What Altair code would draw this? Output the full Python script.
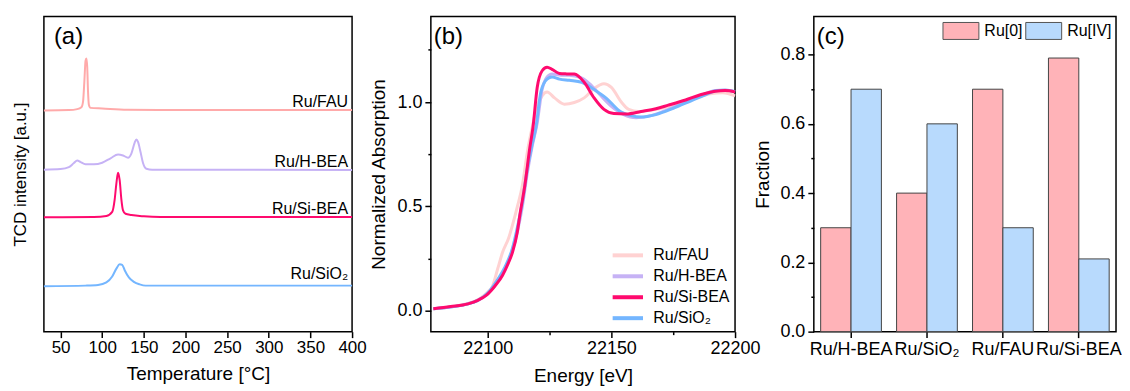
import altair as alt
import pandas as pd

FONT = "Liberation Sans"

samples = ["Ru/FAU", "Ru/H-BEA", "Ru/Si-BEA", "Ru/SiO₂"]
colors_a = ["#FFAAAA", "#C6B2F5", "#FF0A6E", "#74B6FF"]
colors_b = ["#FFD2D2", "#C6B2F5", "#FF0A6E", "#74B6FF"]

# ---------------- (a) H2-TPR profiles (offset, arbitrary units) ----------------
fau_T = [30, 60, 70, 75, 77, 78.5, 80, 81, 82, 83, 84, 86, 100, 130, 200, 400]
fau_I = [7.02, 7.03, 7.06, 7.12, 7.3, 7.9, 8.6, 8.67, 8.4, 7.6, 7.2, 7.1, 7.08, 7.04, 7.03, 7.03]

hbea_T = [30, 50, 60, 66, 70, 74, 80, 90, 100, 110, 119, 125, 131, 135, 139, 141, 143, 146, 149, 153, 160, 400]
hbea_I = [5.14, 5.16, 5.22, 5.35, 5.43, 5.38, 5.31, 5.31, 5.36, 5.5, 5.62, 5.59, 5.52, 5.65, 6.0, 6.1, 6.02, 5.7, 5.35, 5.17, 5.14, 5.13]

sibea_T = [30, 90, 105, 112, 115, 117, 119, 121, 123, 125, 128, 135, 150, 170, 400]
sibea_I = [3.63, 3.64, 3.67, 3.8, 4.2, 4.7, 5.04, 4.8, 4.2, 3.85, 3.74, 3.7, 3.66, 3.64, 3.64]

sio2_T = [30, 80, 95, 105, 112, 117, 121, 124, 127, 132, 138, 145, 152, 400]
sio2_I = [1.44, 1.46, 1.48, 1.56, 1.75, 2.0, 2.14, 2.12, 1.95, 1.72, 1.58, 1.5, 1.46, 1.46]

# ---------------- (b) Ru K-edge XANES ----------------
sibea_E = [22078, 22085, 22092, 22096, 22099.5, 22103, 22106, 22108, 22110, 22112, 22113, 22115, 22117,
           22118.3, 22120, 22122, 22124, 22126, 22129, 22132, 22135, 22139, 22143, 22147, 22151, 22156,
           22162, 22168, 22173, 22180, 22186, 22192, 22196, 22200]
sibea_A = [0.01, 0.02, 0.033, 0.05, 0.075, 0.12, 0.17, 0.22, 0.28, 0.38, 0.46, 0.6, 0.78,
           0.88, 1.07, 1.15, 1.167, 1.157, 1.137, 1.135, 1.134, 1.095, 1.02, 0.965, 0.945, 0.943,
           0.955, 0.968, 0.985, 1.01, 1.035, 1.052, 1.055, 1.048]

sio2_E = [22078, 22092, 22096, 22100, 22104, 22107, 22110, 22112, 22114, 22116, 22118, 22119.5, 22121.5,
          22124, 22126, 22129, 22133, 22138, 22143, 22148, 22153, 22158, 22162, 22168, 22175, 22182,
          22188, 22193, 22196, 22200]
sio2_A = [0.01, 0.033, 0.05, 0.085, 0.15, 0.21, 0.3, 0.4, 0.52, 0.68, 0.8, 0.88, 1.05,
          1.11, 1.12, 1.11, 1.104, 1.095, 1.06, 1.018, 0.96, 0.935, 0.928, 0.94, 0.97, 1.005,
          1.035, 1.055, 1.056, 1.05]

hbea_E = [22078, 22092, 22096, 22100, 22104, 22107, 22110, 22112, 22114, 22116, 22118, 22120, 22122,
          22124, 22126, 22129, 22133, 22137, 22141, 22145, 22150, 22155, 22160, 22166, 22173, 22180,
          22187, 22192, 22196, 22200]
hbea_A = [0.01, 0.033, 0.05, 0.082, 0.14, 0.2, 0.29, 0.38, 0.5, 0.66, 0.79, 0.9, 1.06,
          1.12, 1.135, 1.13, 1.128, 1.12, 1.09, 1.04, 0.98, 0.94, 0.925, 0.935, 0.965, 1.0,
          1.035, 1.055, 1.058, 1.05]

fau_E = [22078, 22092, 22097, 22100, 22102, 22104, 22106, 22108.5, 22110, 22112, 22114, 22116, 22118,
         22120, 22122, 22124, 22127, 22131, 22135, 22139, 22143, 22147, 22150, 22154, 22157, 22161,
         22168, 22175, 22183, 22190, 22195, 22200]
fau_A = [0.01, 0.035, 0.06, 0.09, 0.12, 0.2, 0.28, 0.35, 0.41, 0.5, 0.6, 0.76, 0.88,
         0.98, 1.03, 1.048, 1.02, 0.99, 0.998, 1.02, 1.065, 1.088, 1.07, 1.0, 0.965, 0.955,
         0.965, 0.985, 1.015, 1.04, 1.045, 1.03]

# ---------------- (c) Ru oxidation-state fractions ----------------
cats = ["Ru/H-BEA", "Ru/SiO₂", "Ru/FAU", "Ru/Si-BEA"]
states = ["Ru[0]", "Ru[IV]"]
ru0 = [0.30, 0.40, 0.70, 0.79]
ru4 = [0.70, 0.60, 0.30, 0.21]
bar_colors = ["#FFB3B8", "#B8DAFD"]

# ---------------- tables ----------------
tpr = pd.concat([
    pd.DataFrame({"T": fau_T, "I": fau_I, "sample": samples[0]}),
    pd.DataFrame({"T": hbea_T, "I": hbea_I, "sample": samples[1]}),
    pd.DataFrame({"T": sibea_T, "I": sibea_I, "sample": samples[2]}),
    pd.DataFrame({"T": sio2_T, "I": sio2_I, "sample": samples[3]}),
])
tpr_lbl = pd.DataFrame({
    "sample": samples,
    "T": [fau_T[-1], hbea_T[-1], sibea_T[-1], sio2_T[-1]],
    "I": [fau_I[-1], hbea_I[-1], sibea_I[-1], sio2_I[-1]],
})

xas = pd.concat([
    pd.DataFrame({"E": fau_E, "A": fau_A, "sample": samples[0]}),
    pd.DataFrame({"E": hbea_E, "A": hbea_A, "sample": samples[1]}),
    pd.DataFrame({"E": sibea_E, "A": sibea_A, "sample": samples[2]}),
    pd.DataFrame({"E": sio2_E, "A": sio2_A, "sample": samples[3]}),
])

frac = pd.DataFrame({
    "cat": cats * 2,
    "state": [states[0]] * 4 + [states[1]] * 4,
    "value": ru0 + ru4,
})

H = 316


def tick_size(test):
    return {"condition": {"test": test, "value": 6}, "value": 3}


def panel_label(txt, x):
    return alt.Chart(pd.DataFrame({"p": [txt]})).mark_text(
        fontSize=24, align="left", baseline="alphabetic", font=FONT, color="black"
    ).encode(x=alt.value(x), y=alt.value(28), text="p:N")


# ---------------- panel (a) ----------------
xa = alt.X("T:Q", scale=alt.Scale(domain=[30, 400], nice=False, zero=False),
           axis=alt.Axis(values=list(range(50, 401, 25)), title="Temperature [°C]",
                         labelExpr="datum.value % 50 === 0 ? datum.label : ''",
                         tickSize=tick_size("datum.value % 50 === 0"), labelOverlap=False,
                         labelFlush=False, labelFontSize=17, labelPadding=2, titlePadding=9))
ya = alt.Y("I:Q", scale=alt.Scale(domain=[0, 10], nice=False),
           axis=alt.Axis(title="TCD intensity [a.u.]", labels=False, ticks=False,
                         titleFontSize=17, titlePadding=14))
ca = alt.Color("sample:N", scale=alt.Scale(domain=samples, range=colors_a), legend=None)

lines_a = alt.Chart(tpr).mark_line(strokeWidth=2, interpolate="monotone").encode(
    x=xa, y=ya, color=ca, detail="sample:N")
text_a = alt.Chart(tpr_lbl).transform_filter(alt.datum.sample != samples[3]).mark_text(
    align="right", baseline="alphabetic", dx=-4, dy=-3, fontSize=16, font=FONT, color="black"
).encode(x="T:Q", y="I:Q", text="sample:N")
text_a2 = alt.Chart(tpr_lbl).transform_filter(alt.datum.sample == samples[3]).mark_text(
    align="right", baseline="alphabetic", dx=-4, dy=-7, fontSize=16, font=FONT, color="black"
).encode(x="T:Q", y="I:Q", text="sample:N")

panel_a = alt.layer(lines_a, text_a, text_a2, panel_label("(a)", 10)).properties(width=309, height=H)

# ---------------- panel (b) ----------------
xb = alt.X("E:Q", scale=alt.Scale(domain=[22077, 22200], nice=False, zero=False),
           axis=alt.Axis(values=[22100, 22125, 22150, 22175, 22200], format="d", title="Energy [eV]",
                         labelExpr="datum.value % 50 === 0 ? datum.label : ''",
                         tickSize=tick_size("datum.value % 50 === 0"), labelOverlap=False,
                         labelFlush=False, labelPadding=2, titlePadding=9))
yb = alt.Y("A:Q", scale=alt.Scale(domain=[-0.1, 1.41], nice=False, zero=False),
           axis=alt.Axis(values=[0, 0.25, 0.5, 0.75, 1.0, 1.25], format=".1f",
                         title="Normalized Absorption",
                         labelExpr="(datum.value * 2) % 1 === 0 ? datum.label : ''",
                         tickSize=tick_size("(datum.value * 2) % 1 === 0"), labelOverlap=False,
                         labelFlush=False, labelPadding=3, titlePadding=8))
cb = alt.Color("sample:N", scale=alt.Scale(domain=samples, range=colors_b),
               legend=alt.Legend(orient="bottom-right", title=None, symbolType="M-1.45,0H1.45",
                                 symbolSize=441, symbolStrokeWidth=4, labelFontSize=16, labelFont=FONT,
                                 labelOffset=13, rowPadding=0, offset=5, padding=0))

draw_order = [samples[0], samples[1], samples[3], samples[2]]
layers_b = []
for s in draw_order:
    layers_b.append(
        alt.Chart(xas).transform_filter(alt.datum.sample == s).mark_line(
            strokeWidth=3, interpolate="monotone").encode(x=xb, y=yb, color=cb)
    )
panel_b = alt.layer(*layers_b, panel_label("(b)", 3)).properties(width=305, height=H)

# ---------------- panel (c) ----------------
bars = alt.Chart(frac).mark_bar(stroke="#444444", strokeWidth=1).encode(
    x=alt.X("cat:N", sort=cats, scale=alt.Scale(paddingInner=0.2, paddingOuter=0.09),
            axis=alt.Axis(title=None, labelAngle=0, labelFontSize=18, tickSize=6, labelPadding=3)),
    xOffset=alt.XOffset("state:N", sort=states),
    y=alt.Y("value:Q", scale=alt.Scale(domain=[0, 0.91], nice=False),
            axis=alt.Axis(values=[0.0, 0.1, 0.2, 0.3, 0.4, 0.5, 0.6, 0.7, 0.8], format=".1f",
                          title="Fraction",
                          labelExpr="round(datum.value * 10) % 2 === 0 ? datum.label : ''",
                          tickSize=tick_size("round(datum.value * 10) % 2 === 0"),
                          labelOverlap=False, labelFlush=False, labelPadding=3, titlePadding=7)),
    color=alt.Color("state:N", scale=alt.Scale(domain=states, range=bar_colors),
                    legend=alt.Legend(orient="top-right", direction="horizontal", title=None,
                                      symbolType="M-1.8,-0.85H1.8V0.85H-1.8Z", symbolSize=400,
                                      symbolStrokeColor="#555555", symbolStrokeWidth=1,
                                      symbolOpacity=1, labelFontSize=16, labelFont=FONT,
                                      labelOffset=13, columnPadding=0, offset=4, padding=0)),
)
panel_c = alt.layer(bars, panel_label("(c)", 3)).properties(width=303, height=H)

chart = alt.hconcat(panel_a, panel_b, panel_c, spacing=79, bounds="flush").resolve_scale(
    color="independent"
).properties(
    padding={"left": 3, "top": 7, "right": 0, "bottom": 0}
).configure(font=FONT).configure_view(
    stroke="black", strokeWidth=1.5
).configure_axis(
    labelFont=FONT, titleFont=FONT, labelColor="black", titleColor="black",
    tickColor="black", tickWidth=1.5, domain=False, grid=False,
    titleFontWeight="normal", labelFontSize=18, titleFontSize=19
)

chart.save("out.html", embed_options={"renderer": "svg", "actions": False})
